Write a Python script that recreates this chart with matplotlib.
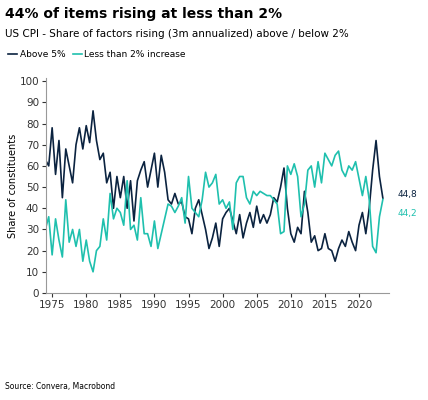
import matplotlib
matplotlib.use("Agg")
import matplotlib.pyplot as plt
import numpy as np

years = np.arange(1974.0, 2023.51, 0.5)
above5 = [63,60,78,56,72,45,68,60,52,70,78,68,79,71,86,72,63,66,52,57,40,55,45,55,40,53,34,53,58,62,50,58,66,50,65,57,44,42,47,42,43,36,35,28,40,44,37,30,21,26,33,22,35,38,40,34,28,37,26,33,38,31,41,33,37,33,37,45,43,50,59,40,28,24,31,28,48,38,24,27,20,21,28,21,20,15,21,25,22,29,24,20,32,38,28,40,58,72,55,44.8]
below2 = [30,36,18,35,25,17,44,24,30,22,30,15,25,15,10,20,22,35,25,47,35,40,38,32,53,30,32,25,45,28,28,22,34,21,28,35,42,41,38,41,45,33,55,40,38,36,44,57,50,52,56,42,44,40,43,30,52,55,55,45,42,48,46,48,47,46,46,44,42,28,29,60,56,61,55,36,42,58,60,50,62,52,66,63,60,65,67,58,55,60,58,62,54,46,55,44,22,19,36,44.2]
xticks = list(range(1975, 2021, 5))
yticks = list(range(0, 101, 10))

dark = "#0b2340"; teal = "#1fc0ae"
fig = plt.figure(figsize=(4.28, 4.0), dpi=100)
ax = fig.add_axes([46/428, 1-293/400, (389-46)/428, (293-78)/400])
ax.plot(years, above5, color=dark, lw=1.2, label="Above 5%")
ax.plot(years, below2, color=teal, lw=1.2, label="Less than 2% increase")
ax.set_xlim(1974.1, 2024.4)
ax.set_ylim(0, 101.5)
ax.set_xticks(xticks); ax.set_yticks(yticks)
ax.tick_params(labelsize=7.5, colors="#333333", length=3, pad=2)
for s in ["top", "right"]:
    ax.spines[s].set_visible(False)
for s in ["left", "bottom"]:
    ax.spines[s].set_color("#999999")
ax.set_ylabel("Share of constituents", fontsize=7, labelpad=1)
ax.text(2025.6, 46.5, "44,8", color=dark, fontsize=6.5, va="center")
ax.text(2025.6, 37.5, "44,2", color=teal, fontsize=6.5, va="center")
fig.text(0.012, 0.965, "44% of items rising at less than 2%", fontsize=10, fontweight="bold", va="center")
fig.text(0.012, 0.915, "US CPI - Share of factors rising (3m annualized) above / below 2%", fontsize=7.5, va="center")
fig.legend(loc="upper left", bbox_to_anchor=(0.0, 0.895), ncol=2, frameon=False, fontsize=6.5,
           handlelength=1.0, columnspacing=0.8, handletextpad=0.3)
fig.text(0.012, 0.035, "Source: Convera, Macrobond", fontsize=5.5, va="center")
fig.savefig("out.png", dpi=100)
